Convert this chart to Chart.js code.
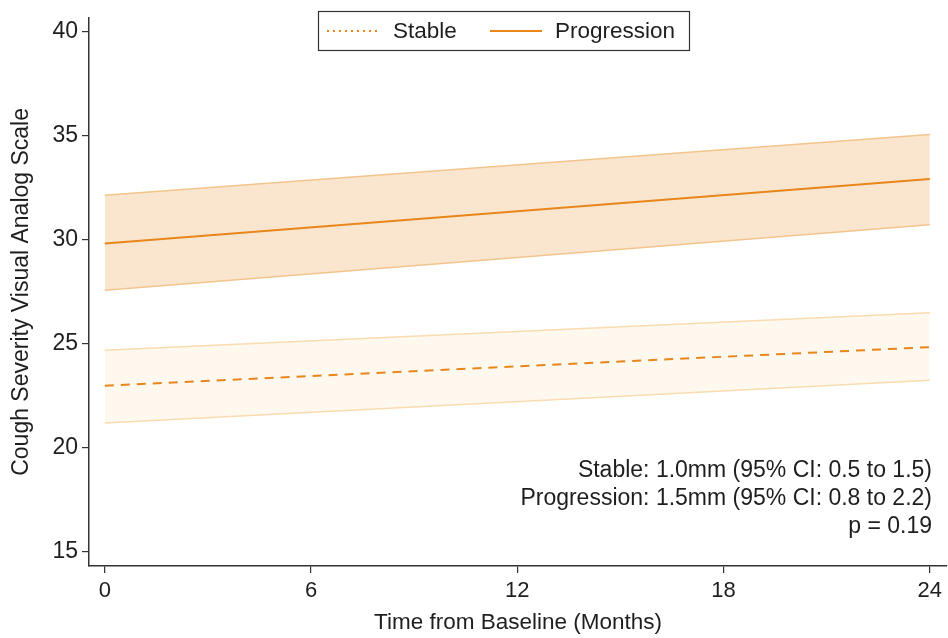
<!DOCTYPE html>
<html>
<head>
<meta charset="utf-8">
<script src="https://cdn.jsdelivr.net/npm/chart.js@4.4.1/dist/chart.umd.min.js"></script>
<style>
  html, body { margin: 0; padding: 0; background: #fff; }
  #wrap { width: 948px; height: 638px; position: relative; }
</style>
</head>
<body>
<div id="wrap"><canvas id="chart"></canvas></div>
<script>
// data (straight lines, so the two ends are enough)
const months = [0, 24];
const progMean = [29.8, 32.9];
const progUpper = [32.13, 35.05];
const progLower = [27.55, 30.7];
const stableMean = [22.96, 24.82];
const stableUpper = [24.67, 26.47];
const stableLower = [21.17, 23.22];

const xTicks = [0, 6, 12, 18, 24];
const yTicks = [15, 20, 25, 30, 35, 40];
const notes = [
  'Stable: 1.0mm (95% CI: 0.5 to 1.5)',
  'Progression: 1.5mm (95% CI: 0.8 to 2.2)',
  'p = 0.19'
];

const orange = '#e8861c';
const font = 'Liberation Sans, Arial, sans-serif';
const textCol = '#1e1e1e';

function pts(ys) {
  return months.map((m, i) => ({ x: m, y: ys[i] }));
}

// legend box + annotation text drawn on top of the plot
const extras = {
  id: 'extras',
  afterDraw(c) {
    const ctx = c.ctx;
    ctx.save();
    // legend
    ctx.fillStyle = '#fff';
    ctx.fillRect(318, 11, 371, 39);
    ctx.strokeStyle = '#333';
    ctx.lineWidth = 1.2;
    ctx.strokeRect(318.5, 11.5, 371, 39);
    ctx.strokeStyle = orange;
    ctx.lineWidth = 1.8;
    ctx.setLineDash([2, 4]);
    ctx.beginPath(); ctx.moveTo(327, 31); ctx.lineTo(380, 31); ctx.stroke();
    ctx.setLineDash([]);
    ctx.beginPath(); ctx.moveTo(490, 31); ctx.lineTo(542, 31); ctx.stroke();
    ctx.fillStyle = textCol;
    ctx.font = '22.5px ' + font;
    ctx.textBaseline = 'middle';
    ctx.textAlign = 'left';
    ctx.fillText('Stable', 393, 32);
    ctx.fillText('Progression', 555, 32);
    // stats text
    ctx.font = '23px ' + font;
    ctx.textAlign = 'right';
    notes.forEach((t, i) => ctx.fillText(t, 932, 471 + i * 28));
    ctx.restore();
  }
};

const ctx = document.getElementById('chart').getContext('2d');
// first dataset is painted last (on top), so the mean lines go first
const chart = new Chart(ctx, {
  type: 'line',
  data: {
    datasets: [
      { label: 'Progression', data: pts(progMean), borderColor: orange, borderWidth: 2,
        pointRadius: 0, fill: false },
      { label: 'Stable', data: pts(stableMean), borderColor: orange, borderWidth: 2,
        borderDash: [9, 7], pointRadius: 0, fill: false },
      { data: pts(progLower), borderColor: '#f3c58e', borderWidth: 1.5, pointRadius: 0, fill: false },
      { data: pts(progUpper), borderColor: '#f3c58e', borderWidth: 1.5, pointRadius: 0,
        fill: '-1', backgroundColor: '#fae6cf' },
      { data: pts(stableLower), borderColor: '#fbdcb0', borderWidth: 1.5, pointRadius: 0, fill: false },
      { data: pts(stableUpper), borderColor: '#fbdcb0', borderWidth: 1.5, pointRadius: 0,
        fill: '-1', backgroundColor: '#fff8ef' }
    ]
  },
  options: {
    responsive: true,
    maintainAspectRatio: false,
    animation: false,
    layout: { padding: { top: 8, right: 1, left: 0, bottom: 0 } },
    plugins: { legend: { display: false }, tooltip: { enabled: false } },
    scales: {
      x: {
        type: 'linear',
        min: -0.46,
        max: 24.5,
        afterBuildTicks: s => { s.ticks = xTicks.map(v => ({ value: v })); },
        afterFit: s => { s.height = 72; },
        grid: { drawOnChartArea: false, tickLength: 7, color: '#333', lineWidth: 1.2 },
        border: { color: '#333', width: 1.5 },
        ticks: { color: textCol, font: { family: font, size: 22 }, padding: 5, maxRotation: 0 },
        title: { display: true, text: 'Time from Baseline (Months)', color: textCol,
          font: { family: font, size: 22.5 }, padding: { top: 0, bottom: 2 } }
      },
      y: {
        min: 14.29,
        max: 40.66,
        afterBuildTicks: s => { s.ticks = yTicks.map(v => ({ value: v })); },
        afterFit: s => { s.width = 89; },
        grid: { drawOnChartArea: false, tickLength: 7, color: '#333', lineWidth: 1.2 },
        border: { color: '#333', width: 1.5 },
        ticks: { color: textCol, font: { family: font, size: 23 }, padding: 4 },
        title: { display: true, text: 'Cough Severity Visual Analog Scale', color: textCol,
          font: { family: font, size: 23 }, padding: { top: 8, bottom: 0 } }
      }
    }
  },
  plugins: [extras]
});
</script>
</body>
</html>
